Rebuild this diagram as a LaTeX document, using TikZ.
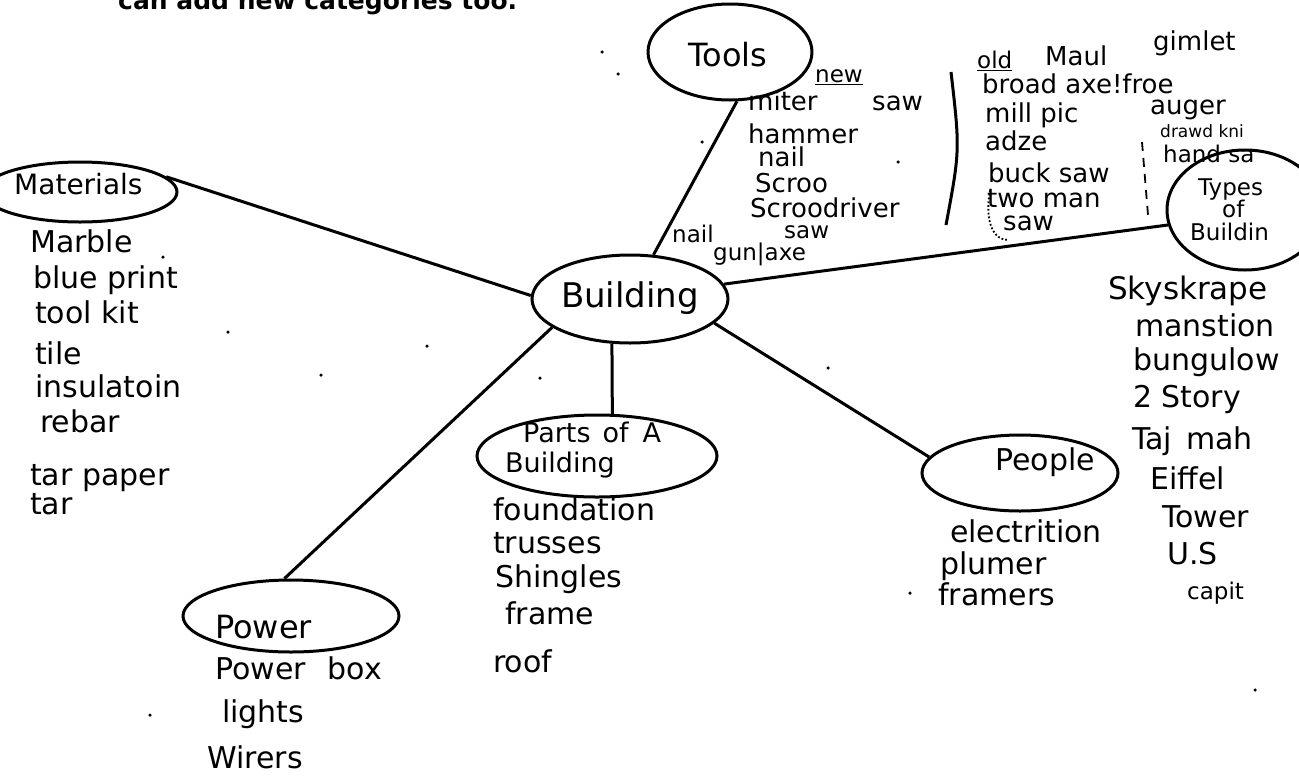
\documentclass[tikz,border=0pt]{standalone}
\usepackage{fontspec}
\setmainfont{DejaVu Sans}
\usetikzlibrary{shapes.geometric}
\begin{document}
\begin{tikzpicture}[x=1pt,y=-1pt,
  bubble/.style={draw, ellipse, line width=3pt, inner sep=0pt},
  link/.style={line width=3pt},
  hand/.style={inner sep=0pt, anchor=mid west, font=\fontsize{30}{30}\selectfont},
  handM/.style={inner sep=0pt, anchor=mid west, font=\fontsize{26}{26}\selectfont},
  handS/.style={inner sep=0pt, anchor=mid west, font=\fontsize{23}{23}\selectfont},
  handXS/.style={inner sep=0pt, anchor=mid west, font=\fontsize{17}{17}\selectfont},
  title/.style={inner sep=0pt, anchor=base west, font=\fontsize{25}{25}\selectfont\bfseries},
  speck/.style={fill, circle, inner sep=0pt, minimum size=3.5pt},
]
\useasboundingbox (0,0) rectangle (1299,780);

% heading line, mostly above the page edge
\node[title] (head) at (118,9) {can add new categories too.};

% topic bubbles
\node[bubble, minimum width=164pt, minimum height=96pt]  (tools) at (730,52) {};
\node[bubble, minimum width=196pt, minimum height=88pt]  (bld)   at (630,299) {};
\node[bubble, minimum width=194pt, minimum height=60pt]  (mat)   at (80,192) {};
\node[bubble, minimum width=240pt, minimum height=82pt]  (parts) at (597,456) {};
\node[bubble, minimum width=196pt, minimum height=76pt]  (ppl)   at (1020,473) {};
\node[bubble, minimum width=216pt, minimum height=72pt]  (pow)   at (291,616) {};
\node[bubble, minimum width=156pt, minimum height=120pt] (types) at (1245,210) {};

% bubble captions
\node[inner sep=0pt, font=\fontsize{32}{32}\selectfont] (toolsT) at (728,55) {Tools};
\node[inner sep=0pt, font=\fontsize{34}{34}\selectfont] (bldT) at (630,298) {Building};
\node[hand, font=\fontsize{28}{28}\selectfont] (matT) at (14,192) {Materials};
\node[hand, font=\fontsize{27}{27}\selectfont] (partsT1) at (523,440) {Parts\hspace{12pt}of\hspace{14pt}A};
\node[hand, font=\fontsize{27}{27}\selectfont] (partsT2) at (505,470) {Building};
\node[hand] (pplT) at (995,468) {People};
\node[hand, font=\fontsize{32}{32}\selectfont] (powT) at (215,636) {Power};
\node[handS] (typesT1) at (1198,193) {Types};
\node[handS] (typesT2) at (1222,215) {of};
\node[handS] (typesT3) at (1190,238) {Buildin};

% connectors from the centre bubble
\draw[link] (bld.62)  -- (tools.-82);
\draw[link] (bld.9)   -- (types.191);
\draw[link] (bld.178) -- (mat.10);
\draw[link] (bld.248) -- (parts.70);
\draw[link] (bld.-16) -- (ppl.170);
\draw[link] (bld.200) -- (pow.100);

% tools: new
\node[handS] (newH) at (815,80) {\underline{new}};
\node[handM] (t1a) at (748,108) {miter};
\node[handM] (t1b) at (872,108) {saw};
\node[handM] (t2) at (748,141) {hammer};
\node[handM] (t3) at (758,164) {nail};
\node[handM] (t4) at (755,190) {Scroo};
\node[handM] (t5) at (750,215) {Scroodriver};
\node[handS] (t6) at (784,236) {saw};
\node[handS] (t7) at (672,240) {nail};
\node[handS] (t8) at (713,258) {gun|axe};

% divider between new and old tools
\draw[line width=3pt] (951,72) .. controls (960,150) .. (946,225);

% tools: old
\node[handS] (oldH) at (977,66) {\underline{old}};
\node[handM] (o1) at (1045,63) {Maul};
\node[handM] (o2) at (1153,48) {gimlet};
\node[handM] (o3) at (982,91) {broad axe!froe};
\node[handM] (o4) at (985,120) {mill pic};
\node[handM] (o5) at (1150,112) {auger};
\node[handM] (o6) at (985,148) {adze};
\node[handXS] (o7) at (1160,135) {drawd kni};
\node[handS] (o8) at (1163,160) {hand sa};
\node[handM] (o9) at (988,180) {buck saw};
\node[handM] (o10) at (987,205) {two man};
\node[handM] (o11) at (1003,228) {saw};
\draw[line width=1.8pt, dash pattern=on 9pt off 7pt] (1142,142) -- (1148,215);
\draw[line width=1.8pt, dotted] (990,190) .. controls (984,225) and (995,240) .. (1008,240);

% types of building
\node[hand, font=\fontsize{31}{31}\selectfont] (y1) at (1108,297) {Skyskrape};
\node[hand] (y2) at (1135,334) {manstion};
\node[hand] (y3) at (1133,368) {bungulow};
\node[hand] (y4) at (1133,405) {2 Story};
\node[hand] (y5) at (1132,447) {Taj\hspace{14pt}mah};
\node[hand] (y6) at (1150,487) {Eiffel};
\node[hand] (y7) at (1162,525) {Tower};
\node[hand] (y8) at (1167,562) {U.S};
\node[handS] (y9) at (1187,597) {capit};

% materials
\node[hand] (m1) at (30,250) {Marble};
\node[hand] (m2) at (33,286) {blue print};
\node[hand] (m3) at (35,321) {tool kit};
\node[hand] (m4) at (35,362) {tile};
\node[hand] (m5) at (35,395) {insulatoin};
\node[hand] (m6) at (40,430) {rebar};
\node[hand] (m7) at (30,483) {tar paper};
\node[hand] (m8) at (30,512) {tar};

% parts of a building
\node[hand] (p1) at (493,518) {foundation};
\node[hand] (p2) at (493,551) {trusses};
\node[hand] (p3) at (495,585) {Shingles};
\node[hand] (p4) at (505,622) {frame};
\node[hand] (p5) at (493,670) {roof};

% people
\node[hand] (e1) at (950,540) {electrition};
\node[hand] (e2) at (940,572) {plumer};
\node[hand] (e3) at (938,603) {framers};

% power
\node[hand] (w1) at (215,677) {Power\hspace{22pt}box};
\node[hand] (w2) at (222,720) {lights};
\node[hand] (w3) at (207,766) {Wirers};

% stray pencil specks
\foreach \px/\py [count=\k] in {602/52, 618/74, 163/257, 228/332, 427/346, 540/378, 828/368, 910/593, 1255/690, 150/715, 702/142, 898/162, 321/375}
  \node[speck] (dot\k) at (\px,\py) {};
\end{tikzpicture}
\end{document}
